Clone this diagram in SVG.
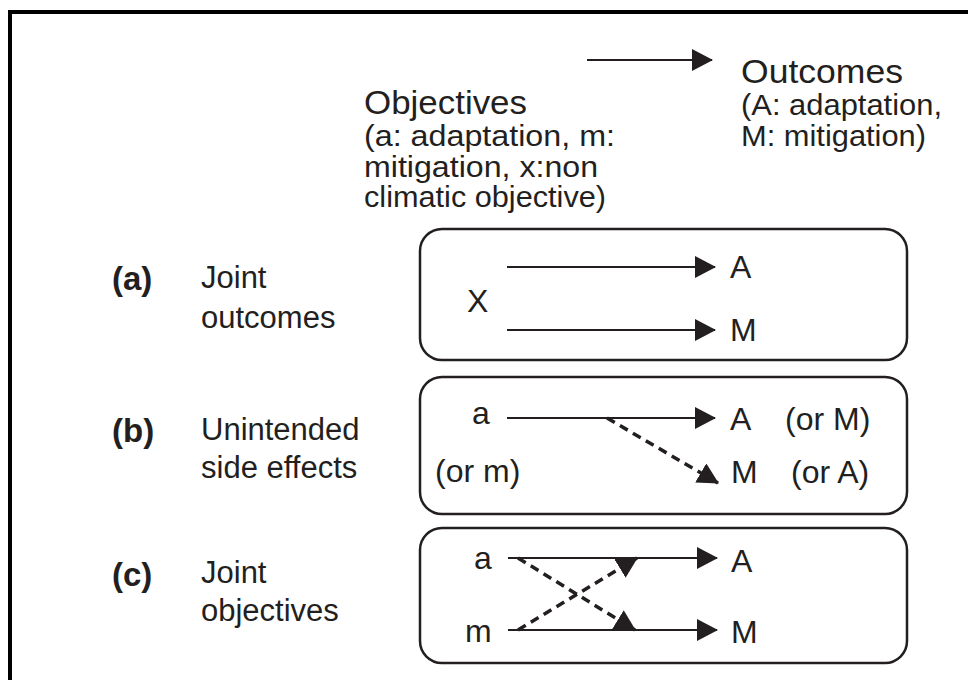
<svg xmlns="http://www.w3.org/2000/svg" width="968" height="680" viewBox="0 0 968 680">
<defs>
<marker id="ah" markerUnits="userSpaceOnUse" markerWidth="21" markerHeight="22" refX="20" refY="11" orient="auto">
<path d="M0,0 L21,11 L0,22 z" fill="#231f20"/>
</marker>
</defs>
<style>
text{font-family:"Liberation Sans",Arial,sans-serif;fill:#231f20}
.hd{font-size:34px}
.sub{font-size:29px}
.lb{font-size:31px}
.bd{font-size:33px;font-weight:bold}
.nd{font-size:32px}
.box{fill:none;stroke:#231f20;stroke-width:2.5}
.s{stroke:#231f20;stroke-width:2;fill:none;marker-end:url(#ah)}
.d{stroke:#231f20;stroke-width:3.5;fill:none;stroke-dasharray:9 6;marker-end:url(#ah)}
</style>
<rect width="968" height="680" fill="#fff"/>
<rect x="10" y="12" width="1000" height="720" fill="none" stroke="#000" stroke-width="4"/>
<g id="legend">
<text class="hd" x="364" y="114" textLength="163" lengthAdjust="spacingAndGlyphs">Objectives</text>
<text class="sub" x="364" y="146" textLength="251" lengthAdjust="spacingAndGlyphs">(a: adaptation, m:</text>
<text class="sub" x="364" y="177" textLength="234" lengthAdjust="spacingAndGlyphs">mitigation, x:non</text>
<text class="sub" x="364" y="207" textLength="242" lengthAdjust="spacingAndGlyphs">climatic objective)</text>
<text class="hd" x="741" y="83" textLength="162" lengthAdjust="spacingAndGlyphs">Outcomes</text>
<text class="sub" x="741" y="115" textLength="201" lengthAdjust="spacingAndGlyphs">(A: adaptation,</text>
<text class="sub" x="741" y="146" textLength="185" lengthAdjust="spacingAndGlyphs">M: mitigation)</text>
</g>
<g id="label-a">
<text class="bd" x="112" y="290">(a)</text>
<text class="lb" x="201" y="288">Joint</text>
<text class="lb" x="201" y="328">outcomes</text>
</g>
<g id="label-b">
<text class="bd" x="112" y="442">(b)</text>
<text class="lb" x="201" y="440">Unintended</text>
<text class="lb" x="201" y="478">side effects</text>
</g>
<g id="label-c">
<text class="bd" x="112" y="586">(c)</text>
<text class="lb" x="201" y="583">Joint</text>
<text class="lb" x="201" y="621">objectives</text>
</g>
<g id="box-a">
<rect class="box" x="420" y="229" width="487" height="131" rx="22"/>
<text class="nd" x="467" y="312">X</text>
<text class="nd" x="730" y="278">A</text>
<text class="nd" x="730" y="341">M</text>
</g>
<g id="box-b">
<rect class="box" x="420" y="377" width="487" height="137" rx="22"/>
<text class="nd" x="472" y="424">a</text>
<text class="nd" x="730" y="430">A</text>
<text class="nd" x="785" y="430">(or M)</text>
<text class="nd" x="435" y="482">(or m)</text>
<text class="nd" x="731" y="483">M</text>
<text class="nd" x="791" y="483">(or A)</text>
</g>
<g id="box-c">
<rect class="box" x="420" y="528" width="487" height="135" rx="22"/>
<text class="nd" x="474" y="569">a</text>
<text class="nd" x="465" y="642">m</text>
<text class="nd" x="731" y="572">A</text>
<text class="nd" x="731" y="643">M</text>
</g>
<g id="connectors">
<line class="s" x1="587" y1="60" x2="712" y2="60"/>
<line class="s" x1="507" y1="267" x2="715" y2="267"/>
<line class="s" x1="507" y1="330" x2="715" y2="330"/>
<line class="s" x1="507" y1="418" x2="715" y2="418"/>
<line class="d" x1="607" y1="418" x2="718" y2="483"/>
<line class="s" x1="508" y1="558" x2="717" y2="558"/>
<line class="s" x1="508" y1="630" x2="717" y2="630"/>
<line class="d" x1="518" y1="558" x2="635" y2="630"/>
<line class="d" x1="518" y1="630" x2="637" y2="558"/>
</g>
</svg>
